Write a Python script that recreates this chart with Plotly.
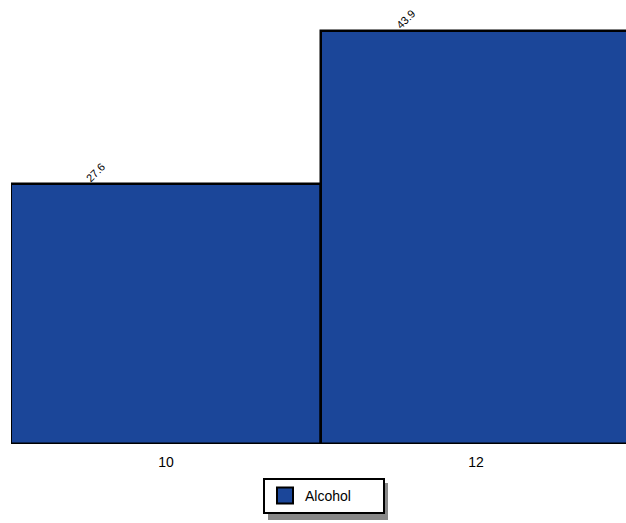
import plotly.graph_objects as go

categories = ["10", "12"]
values = [27.6, 43.9]
series_name = "Alcohol"

W, H = 626, 523
L, R, T, B = 11, 0, 0, 79
pw, ph = W - L - R, H - T - B

def px_x(p):
    return (p - L) / pw

def px_y(p):
    return (H - B - p) / ph

fig = go.Figure()
fig.add_trace(go.Bar(
    x=categories, y=values, name=series_name,
    marker=dict(color="#1B4699", line=dict(color="#000000", width=2.5)),
    showlegend=False,
))
# legend entry
fig.add_trace(go.Scatter(
    x=[None], y=[None], mode="markers", name=series_name,
    marker=dict(symbol="square", size=17, color="#1B4699",
                line=dict(color="#000000", width=2)),
))

for i, v in enumerate(values):
    fig.add_annotation(x=i, y=v, xref="x", yref="y", text=f"{v}", showarrow=False,
                       textangle=-45, xshift=-70, yshift=12,
                       font=dict(size=11, color="#000"))

# legend shadow
fig.add_shape(type="rect", xref="paper", yref="paper",
              x0=px_x(268), x1=px_x(388), y0=px_y(520), y1=px_y(483),
              fillcolor="#888888", line=dict(width=0), layer="below")

fig.update_layout(
    width=W, height=H,
    margin=dict(l=L, r=R, t=T, b=B, pad=0, autoexpand=False),
    plot_bgcolor="white", paper_bgcolor="white",
    bargap=0,
    font=dict(family="Liberation Sans, Arial", size=14, color="#000"),
    xaxis=dict(type="category", range=[-0.5, 1.484], showgrid=False, showline=False,
               zeroline=False, ticks="", tickfont=dict(size=14), ticklabelstandoff=8),
    yaxis=dict(range=[0, 47.2], visible=False),
    legend=dict(x=px_x(263), xanchor="left", y=px_y(478), yanchor="top",
                bordercolor="#000", borderwidth=2, bgcolor="white",
                font=dict(size=14), orientation="h", tracegroupgap=0,
                entrywidth=73, entrywidthmode="pixels"),
)

fig.write_html("out.html", config={"displayModeBar": False},
               post_script="document.body.style.margin='0';")
